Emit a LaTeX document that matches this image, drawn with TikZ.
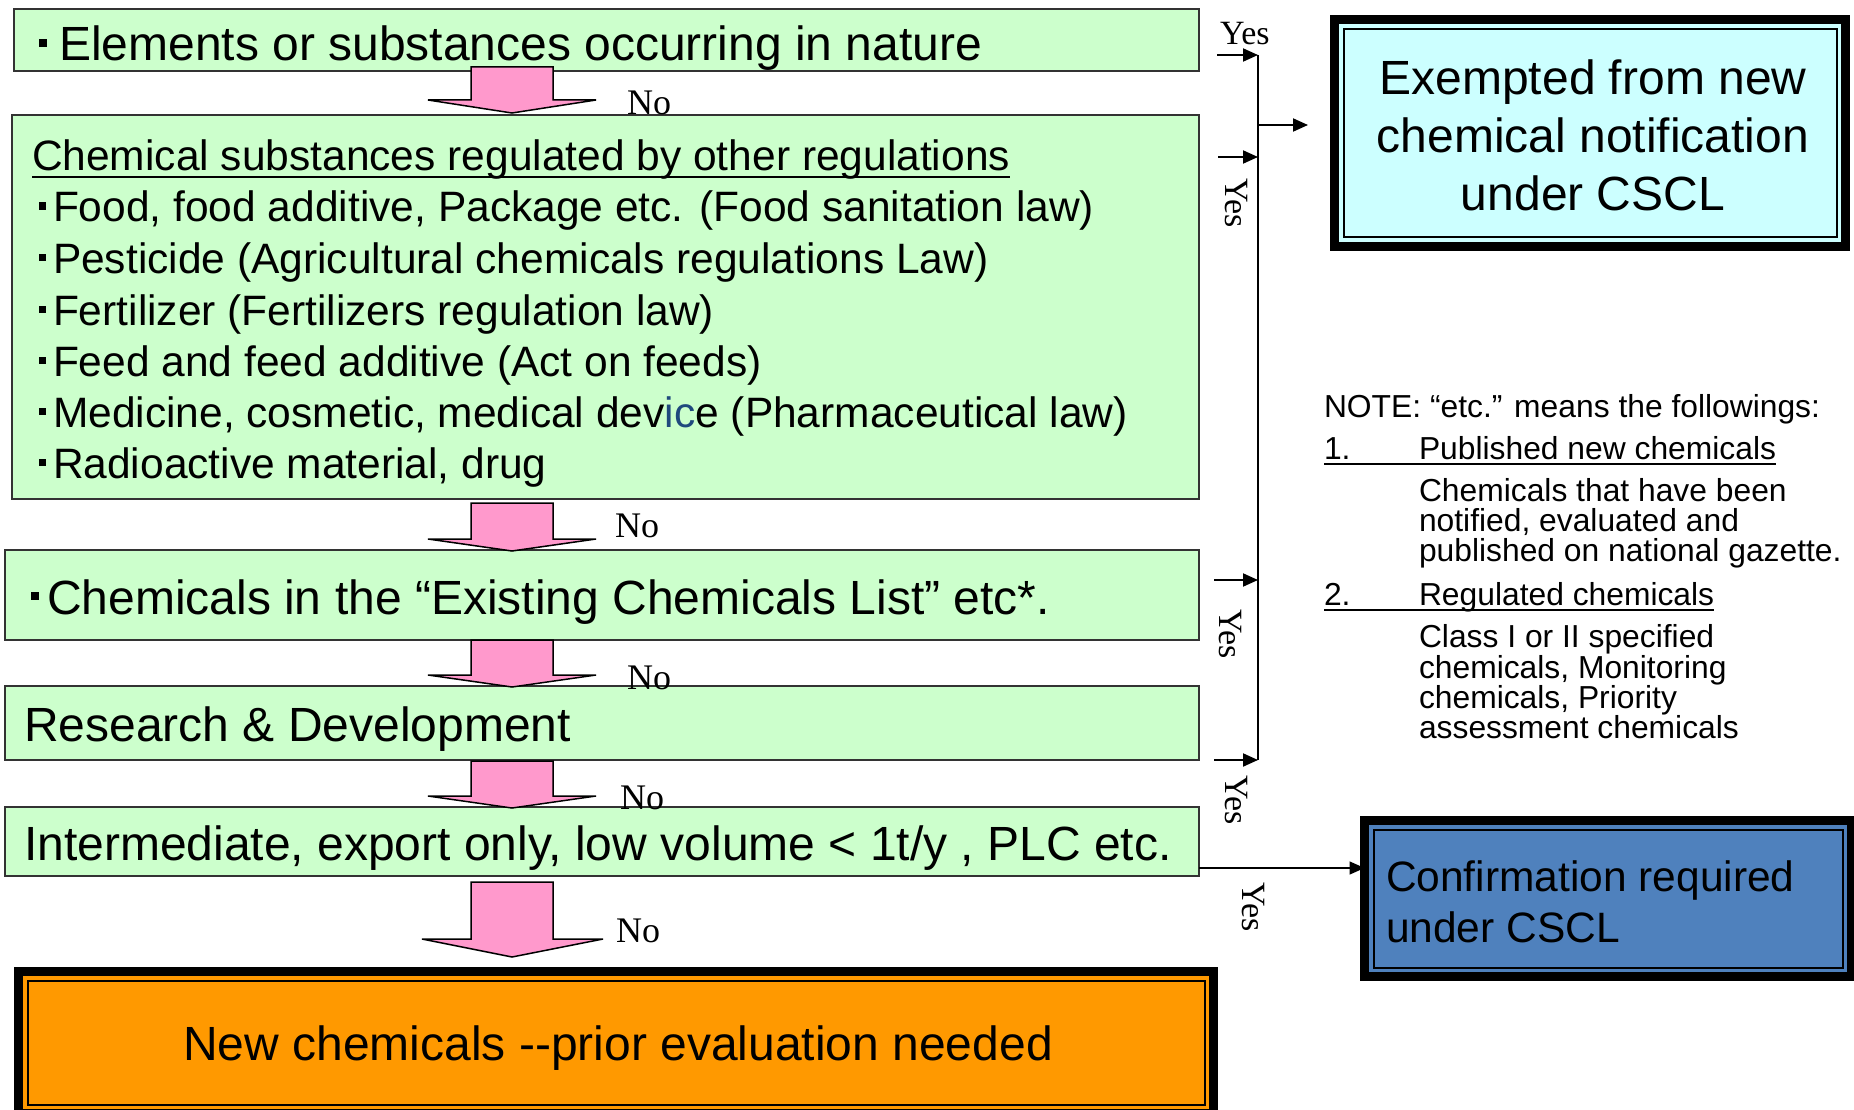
\documentclass[tikz,border=0pt]{standalone}
\usepackage{fontspec}
\setmainfont{Liberation Sans}
\newfontfamily\seriffam{Liberation Serif}
\usetikzlibrary{arrows.meta}
\definecolor{boxgreen}{HTML}{CCFFCC}
\definecolor{pinkfill}{HTML}{FF99CC}
\definecolor{cyanfill}{HTML}{CCFFFF}
\definecolor{bluefill}{HTML}{4F81BD}
\definecolor{orangefill}{HTML}{FF9900}
\definecolor{icblue}{HTML}{1F497D}
% bullet: box width, offset, raise, size
\newcommand\bulsq[4]{\makebox[#1][l]{\hspace{#2}\rule[#3]{#4}{#4}}}
\newcommand\bulA{\bulsq{24pt}{4pt}{14pt}{8pt}}
\newcommand\bulB{\bulsq{21pt}{7pt}{12.5pt}{7pt}}
\newcommand\pinkarr[5]{\draw[pinkarrow] (471,#1) -- (553,#1) -- (553,#2) -- (#5,#2) -- (512,#3) -- (#4,#2) -- (471,#2) -- cycle;}
\begin{document}
\begin{tikzpicture}[x=1pt,y=-1pt,
  greenbox/.style={draw=black!80, line width=1.5pt, fill=boxgreen, inner sep=0pt, outer sep=0pt, anchor=north west},
  bigbox/.style={draw=black, line width=9pt, inner sep=0pt, outer sep=0pt, anchor=north west},
  txt/.style={inner sep=0pt, outer sep=0pt, anchor=base west, font=\fontsize{48}{58}\selectfont},
  txtm/.style={txt, font=\fontsize{42.5}{51}\selectfont},
  notetxt/.style={txt, font=\fontsize{31.8}{36}\selectfont},
  nolbl/.style={inner sep=0pt, anchor=base west, font=\seriffam\fontsize{36}{40}\selectfont},
  yeslbl/.style={inner sep=0pt, font=\seriffam\fontsize{34}{38}\selectfont},
  pinkarrow/.style={draw=black, line width=1.5pt, fill=pinkfill, line join=miter},
  conn/.style={line width=2pt, -{Triangle[length=15pt,width=13pt]}},
]
\useasboundingbox (0,0) rectangle (1854,1110);

% ---- green decision boxes
\node[greenbox, minimum width=1185pt, minimum height=62pt] (b1) at (14,9) {};
\node[greenbox, minimum width=1187pt, minimum height=384pt] (b2) at (12,115) {};
\node[greenbox, minimum width=1194pt, minimum height=90pt] (b3) at (5,550) {};
\node[greenbox, minimum width=1194pt, minimum height=74pt] (b4) at (5,686) {};
\node[greenbox, minimum width=1194pt, minimum height=69pt] (b5) at (5,807) {};

% ---- result boxes
\node[bigbox, fill=cyanfill, minimum width=511pt, minimum height=226pt] (ex) at (1334.5,20) {};
\draw[line width=2pt] ([shift={(9pt,-9pt)}]ex.north west) rectangle ([shift={(-9pt,9pt)}]ex.south east);
\node[bigbox, fill=bluefill, minimum width=487pt, minimum height=156pt] (conf) at (1364.5,820.5) {};
\draw[line width=2pt] ([shift={(9pt,-9pt)}]conf.north west) rectangle ([shift={(-9pt,9pt)}]conf.south east);
\node[bigbox, fill=orangefill, minimum width=1195pt, minimum height=142pt] (nc) at (18.5,971.5) {};
\draw[line width=2pt] ([shift={(9pt,-9pt)}]nc.north west) rectangle ([shift={(-9pt,9pt)}]nc.south east);

% ---- box texts
\node[txt] (t1) at (35,61) {\bulA Elements or substances occurring in nature};

\node[txtm] (t2) at (32,171) {Chemical substances regulated by other regulations};
\draw[line width=2pt] ([yshift=-6pt]t2.base west) -- ([yshift=-6pt]t2.base east);
\node[txtm] (t2a) at (32,222) {\bulB Food, food additive, Package etc. (Food sanitation law)};
\node[txtm] (t2b) at (32,273) {\bulB Pesticide (Agricultural chemicals regulations Law)};
\node[txtm] (t2c) at (32,325) {\bulB Fertilizer (Fertilizers regulation law)};
\node[txtm] (t2d) at (32,376) {\bulB Feed and feed additive (Act on feeds)};
\node[txtm] (t2e) at (32,427) {\bulB Medicine, cosmetic, medical dev{\color{icblue}ic}e (Pharmaceutical law)};
\node[txtm] (t2f) at (32,478) {\bulB Radioactive material, drug};

\node[txt] (t3) at (24,614) {\bulsq{23pt}{7pt}{14pt}{8pt}Chemicals in the “Existing Chemicals List” etc*.};
\node[txt] (t4) at (24,741) {Research \& Development};
\node[txt] (t5) at (24,860) {Intermediate, export only, low volume < 1t/y , PLC etc.};
\node[txt, anchor=base] (t6) at (618,1060) {New chemicals -{}-prior evaluation needed};

\node[txt, anchor=base] (e1) at (1593,95) {Exempted from new};
\node[txt, anchor=base] (e2) at (1593,153) {chemical notification};
\node[txt, anchor=base] (e3) at (1593,211) {under CSCL};

\node[txtm] (c1) at (1386,891) {Confirmation required};
\node[txtm] (c2) at (1386,942) {under CSCL};

% ---- note
\node[notetxt] (n0) at (1324,417) {NOTE: “etc.” means the followings:};
\node[notetxt] (n1) at (1324,459) {1.};
\node[notetxt] (p1) at (1419,459) {Published new chemicals};
\draw[line width=1.5pt] ([yshift=-5pt]n1.base west) -- ([yshift=-5pt]p1.base east);
\node[notetxt] (p1a) at (1419,501) {Chemicals that have been};
\node[notetxt] (p1b) at (1419,531) {notified, evaluated and};
\node[notetxt] (p1c) at (1419,561) {published on national gazette.};
\node[notetxt] (n2) at (1324,605) {2.};
\node[notetxt] (p2) at (1419,605) {Regulated chemicals};
\draw[line width=1.5pt] ([yshift=-5pt]n2.base west) -- ([yshift=-5pt]p2.base east);
\node[notetxt] (p2a) at (1419,647) {Class I or II specified};
\node[notetxt] (p2b) at (1419,678) {chemicals, Monitoring};
\node[notetxt] (p2c) at (1419,708) {chemicals, Priority};
\node[notetxt] (p2d) at (1419,738) {assessment chemicals};

% ---- pink "No" arrows
\pinkarr{67}{100}{113}{428}{596}
\pinkarr{503}{539}{551}{428}{596}
\pinkarr{640}{675}{687}{428}{596}
\pinkarr{761}{796}{808}{428}{596}
\pinkarr{882}{939}{957}{422}{603}
\node[nolbl] (no1) at (627,115) {No};
\node[nolbl] (no2) at (615,537) {No};
\node[nolbl] (no3) at (627,689) {No};
\node[nolbl] (no4) at (620,809) {No};
\node[nolbl] (no5) at (616,942) {No};

% ---- "Yes" connectors
\coordinate (v1) at (1258,55);
\coordinate (v2) at (1258,157);
\coordinate (v3) at (1258,580);
\coordinate (v4) at (1258,760);
\coordinate (s1) at (1217,55);
\coordinate (s2) at (1218,157);
\coordinate (s3) at (1214,580);
\coordinate (s4) at (1214,760);
\coordinate (vm) at (1258,125);
\coordinate (exa) at (1308,125);
\draw[line width=2pt] (v1) -- (v4);
\draw[conn] (s1) -- (v1);
\draw[conn] (s2) -- (v2);
\draw[conn] (s3) -- (v3);
\draw[conn] (s4) -- (v4);
\draw[conn] (vm) -- (exa);
\coordinate (cy) at (0,868);
\draw[conn, line width=1.5pt] (b5.east |- cy) -- (conf.west |- cy);

\node[yeslbl, anchor=base west] (y1) at (1220,45) {Yes};
\node[yeslbl, rotate=-90] (y2) at (1236,203) {Yes};
\node[yeslbl, rotate=-90] (y3) at (1230,634) {Yes};
\node[yeslbl, rotate=-90] (y4) at (1236,800) {Yes};
\node[yeslbl, rotate=-90] (y5) at (1253,907) {Yes};
\end{tikzpicture}
\end{document}
